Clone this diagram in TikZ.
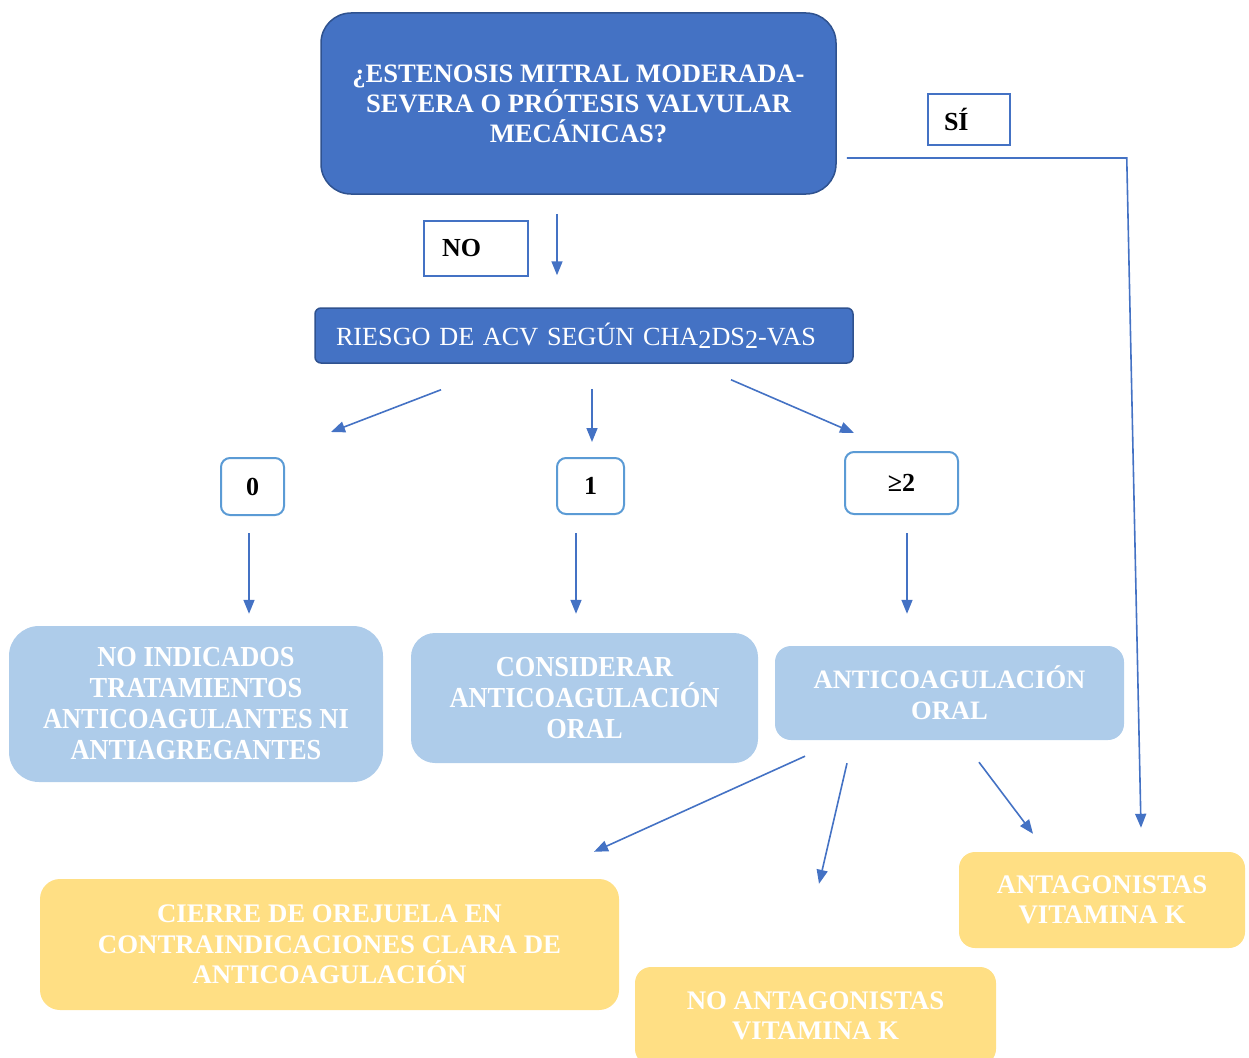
\documentclass[tikz,border=0pt]{standalone}
\definecolor{darkblue}{RGB}{68, 114, 196}
\definecolor{edgeblue}{RGB}{47, 82, 143}
\definecolor{skyblue}{RGB}{91, 155, 213}
\definecolor{paleblue}{RGB}{174, 204, 234}
\definecolor{paleyellow}{RGB}{255, 223, 132}
\usepackage{fontspec}
\setmainfont{Liberation Serif}
\newfontfamily\narrowserif[FakeStretch=0.91]{Liberation Serif}
\usepackage{tikz}
\usetikzlibrary{shapes, arrows.meta, positioning, calc}

\tikzset{
  question/.style={draw=edgeblue, line width=1.5pt, fill=darkblue, text=white},
  answer/.style={draw=darkblue, line width=2pt, fill=white, align=left, font=\fontsize{26}{30}\selectfont\bfseries},
  score/.style={draw=skyblue, line width=2pt, fill=white, rounded corners=9pt, font=\fontsize{26}{30}\selectfont\bfseries},
  advice/.style={fill=paleblue, text=white, align=center, font=\fontsize{26.6}{31}\selectfont\bfseries},
  narrowadvice/.style={advice, font=\fontsize{29}{31}\narrowserif\bfseries},
  drug/.style={fill=paleyellow, text=white, align=center, font=\fontsize{26.8}{30.5}\selectfont\bfseries},
  arr/.style={draw=darkblue, line width=1.6pt, -{Triangle[length=14pt, width=11pt]}}
}

\begin{document}
\begin{tikzpicture}[x=1pt, y=-1pt]
  \useasboundingbox (0,0) rectangle (1249,1057);

  \node[question, align=center, rounded corners=30pt, minimum width=515pt, minimum height=181pt,
        font=\fontsize{26.6}{30}\selectfont\bfseries] (pregunta) at (578.5,103.5)
    {¿ESTENOSIS MITRAL MODERADA-\\SEVERA O PRÓTESIS VALVULAR\\MECÁNICAS?};
  \node[answer, text width=50pt, inner xsep=16pt, minimum height=51pt] (si) at (969,119.5) {SÍ};
  \node[answer, text width=68pt, inner xsep=18pt, minimum height=55pt] (no) at (476,248.5) {NO};

  \node[question, align=left, rounded corners=6pt, text width=496pt, inner xsep=21pt, minimum height=55pt,
        font=\fontsize{26.2}{30}\selectfont] (riesgo) at (584,335.5)
    {RIESGO DE ACV SEGÚN CHA\raisebox{-3pt}{2}DS\raisebox{-3pt}{2}-VAS};

  \node[score, minimum width=63pt, minimum height=57pt] (cero) at (252.5,486.5) {0};
  \node[score, minimum width=67pt, minimum height=56pt] (uno) at (590.5,486) {1};
  \node[score, minimum width=113pt, minimum height=62pt] (dos) at (901.5,483) {\raisebox{-2pt}{≥2}};

  \node[narrowadvice, rounded corners=30pt, minimum width=374pt, minimum height=156pt] (nada) at (196,704)
    {NO INDICADOS\\TRATAMIENTOS\\ANTICOAGULANTES NI\\ANTIAGREGANTES};
  \node[narrowadvice, rounded corners=24pt, minimum width=347pt, minimum height=130pt] (considerar) at (584.5,698)
    {CONSIDERAR\\ANTICOAGULACIÓN\\ORAL};
  \node[advice, rounded corners=16pt, minimum width=349pt, minimum height=94pt] (oral) at (949.5,693)
    {ANTICOAGULACIÓN\\ORAL};

  \node[drug, rounded corners=20pt, minimum width=579pt, minimum height=131pt] (orejuela) at (329.5,944.5)
    {CIERRE DE OREJUELA EN\\CONTRAINDICACIONES CLARA DE\\ANTICOAGULACIÓN};
  \node[drug, rounded corners=16pt, minimum width=361pt, minimum height=98pt] (noavk) at (815.5,1016)
    {NO ANTAGONISTAS\\VITAMINA K};
  \node[drug, rounded corners=16pt, minimum width=286pt, minimum height=96pt] (avk) at (1102,900)
    {ANTAGONISTAS\\VITAMINA K};

  \draw[arr] ($(pregunta.south)+(-21.5,19)$) -- ($(riesgo.north)+(-27,-32)$);
  \draw[arr] ($(pregunta.east)+(10,54.5)$) -- ++(280,0) -- ($(avk.north)+(39,-24)$);

  \draw[arr] ($(riesgo.south)+(-143,26)$) -- ($(cero.north)+(78.5,-25)$);
  \draw[arr] ($(riesgo.south)+(8,25)$) -- ($(uno.north)+(1.5,-15)$);
  \draw[arr] ($(riesgo.south)+(147,16)$) -- ($(dos.north)+(-47.5,-18)$);

  \draw[arr] ($(cero.south)+(-3.5,17)$) -- ($(nada.north)+(53,-12)$);
  \draw[arr] ($(uno.south)+(-14.5,18)$) -- ($(considerar.north)+(-8.5,-19)$);
  \draw[arr] ($(dos.south)+(5.5,18)$) -- ($(oral.north)+(-42.5,-32)$);

  \draw[arr] ($(oral.south)+(-144.5,16)$) -- ($(orejuela.north)+(264.5,-27)$);
  \draw[arr] ($(oral.south)+(-102.5,23)$) -- ($(noavk.north)+(3.5,-83)$);
  \draw[arr] ($(oral.south)+(29.5,22)$) -- ($(avk.north)+(-69,-18)$);
\end{tikzpicture}
\end{document}
